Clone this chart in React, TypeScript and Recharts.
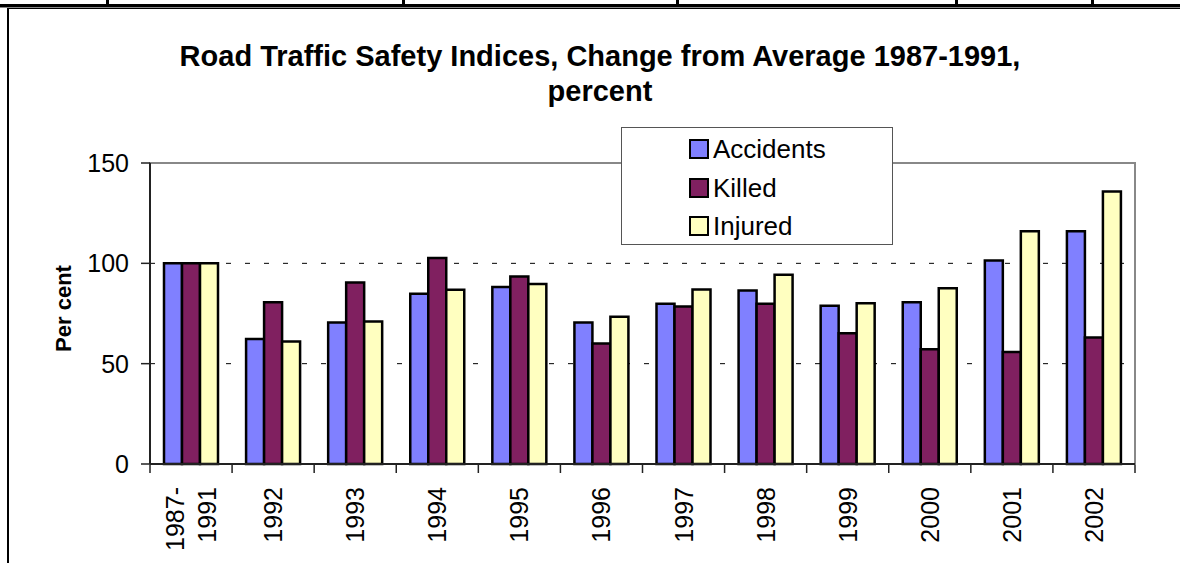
import React from 'react';
import {
  BarChart,
  Bar,
  XAxis,
  YAxis,
  CartesianGrid,
  Legend,
  ReferenceArea,
} from 'recharts';

const categories = ['1987-1991', '1992', '1993', '1994', '1995', '1996', '1997', '1998', '1999', '2000', '2001', '2002'];
const accidents = [100, 62.3, 70.5, 84.8, 88.2, 70.5, 79.8, 86.4, 78.8, 80.6, 101.4, 116];
const killed = [100, 80.6, 90.4, 102.6, 93.4, 60, 78.5, 79.8, 65.2, 57.2, 55.8, 63];
const injured = [100, 61.1, 71, 86.8, 89.7, 73.4, 87, 94.3, 80.1, 87.6, 116, 135.8];
const yTicks = [0, 50, 100, 150];
const gridValues = [50, 100];

const series = [
  { key: 'Accidents', color: '#8080FF' },
  { key: 'Killed', color: '#802060' },
  { key: 'Injured', color: '#FFFFC0' },
];

const data = categories.map((category, i) => ({
  category,
  pos: i + 0.5,
  Accidents: accidents[i],
  Killed: killed[i],
  Injured: injured[i],
}));

// category boundaries, where Excel puts its x tick marks
const edgeTicks = categories.map((_, i) => i).concat(categories.length);

const FONT = '"Liberation Sans", Arial, sans-serif';

// category label, rotated; "1987-1991" wraps after the hyphen like Excel does
const XTick = ({ x, y, payload }: any) => {
  const label = String(payload.value);
  const cut = label.indexOf('-');
  const lines = cut >= 0 ? [label.slice(0, cut + 1), label.slice(cut + 1)] : [label];
  const lh = 32;
  return (
    <g transform={`translate(${x},${y + 15})`}>
      <text transform="rotate(-90)" textAnchor="end" fontSize={25} fill="#000" fontFamily={FONT}>
        {lines.map((ln, i) => (
          <tspan key={i} x={0} dy={i === 0 ? -((lines.length - 1) * lh) / 2 + 9 : lh}>
            {ln}
          </tspan>
        ))}
      </text>
    </g>
  );
};

const NoTick = () => <g />;

const YLabel = ({ viewBox }: any) => {
  const cx = viewBox.x + 3;
  const cy = viewBox.y + viewBox.height / 2 - 5;
  return (
    <text
      x={cx}
      y={cy}
      transform={`rotate(-90 ${cx} ${cy})`}
      textAnchor="middle"
      dominantBaseline="central"
      fontSize={22}
      fontWeight="bold"
      fontFamily={FONT}
      fill="#000"
    >
      Per cent
    </text>
  );
};

const renderLegend = () => (
  <div
    style={{
      width: 272,
      height: 118,
      boxSizing: 'border-box',
      border: '1px solid #555',
      background: '#fff',
      paddingTop: 2,
      fontFamily: FONT,
    }}
  >
    {series.map((s) => (
      <div key={s.key} style={{ display: 'flex', alignItems: 'center', height: 38.5, paddingLeft: 67 }}>
        <span
          style={{
            width: 16,
            height: 16,
            border: '2px solid #000',
            background: s.color,
            marginRight: 4,
            display: 'inline-block',
          }}
        />
        <span style={{ fontSize: 26, lineHeight: '26px', color: '#000' }}>{s.key}</span>
      </div>
    ))}
  </div>
);

const App: React.FC = () => {
  return (
    <div style={{ position: 'absolute', left: 0, top: 0, width: 1180, height: 563, background: '#fff', overflow: 'hidden' }}>
      {/* page rules around the chart object */}
      <div style={{ position: 'absolute', left: 0, top: 4, width: 1180, height: 3, background: '#000' }} />
      <div style={{ position: 'absolute', left: 0, top: 7, width: 1180, height: 1, background: '#888' }} />
      <div style={{ position: 'absolute', left: 7, top: 8, width: 1173, height: 1, background: '#000' }} />
      <div style={{ position: 'absolute', left: 7, top: 8, width: 1.5, height: 555, background: '#000' }} />
      {[106, 402, 676, 955, 1091].map((lx) => (
        <div key={lx} style={{ position: 'absolute', left: lx, top: 0, width: 3, height: 5, background: '#000' }} />
      ))}

      <div
        style={{
          position: 'absolute',
          left: 10,
          top: 39,
          width: 1180,
          textAlign: 'center',
          fontFamily: FONT,
          fontWeight: 'bold',
          fontSize: 29,
          lineHeight: '35px',
          color: '#000',
        }}
      >
        Road Traffic Safety Indices, Change from Average 1987-1991,
        <br />
        percent
      </div>

      <div style={{ position: 'absolute', left: 0, top: 0 }}>
        <BarChart
          width={1180}
          height={563}
          data={data}
          margin={{ top: 163, right: 45, bottom: 9, left: 60 }}
          barGap={0}
          barSize={18}
        >
          <ReferenceArea
            xAxisId="edges"
            x1={0}
            x2={categories.length}
            y1={0}
            y2={150}
            fill="none"
            stroke="#888"
            strokeWidth={2}
          />
          <CartesianGrid
            xAxisId="edges"
            vertical={false}
            horizontalValues={gridValues}
            stroke="#000"
            strokeDasharray="5 14"
          />
          <XAxis
            dataKey="category"
            height={1}
            interval={0}
            tickLine={false}
            axisLine={{ stroke: '#222', strokeWidth: 2 }}
            tick={<XTick />}
          />
          <XAxis
            xAxisId="edges"
            dataKey="pos"
            type="number"
            domain={[0, categories.length]}
            ticks={edgeTicks}
            interval={0}
            height={89}
            tick={<NoTick />}
            axisLine={false}
            tickLine={{ stroke: '#222', strokeWidth: 1.5 }}
            tickSize={8}
          />
          <YAxis
            width={90}
            domain={[0, 150]}
            ticks={yTicks}
            interval={0}
            tickSize={9}
            tickMargin={12}
            axisLine={{ stroke: '#222', strokeWidth: 2 }}
            tickLine={{ stroke: '#222', strokeWidth: 1.5 }}
            tick={{ fontSize: 25, fill: '#000', fontFamily: FONT }}
            label={<YLabel />}
          />
          <Legend
            layout="horizontal"
            verticalAlign="middle"
            content={renderLegend}
            wrapperStyle={{ left: 621, top: 127, width: 272, height: 118 }}
          />
          {series.map((s) => (
            <Bar
              key={s.key}
              dataKey={s.key}
              fill={s.color}
              stroke="#000"
              strokeWidth={2.5}
              isAnimationActive={false}
            />
          ))}
        </BarChart>
      </div>
    </div>
  );
};

export default App;
